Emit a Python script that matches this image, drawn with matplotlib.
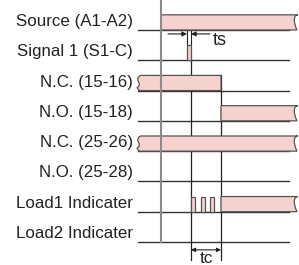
import matplotlib
matplotlib.use('Agg')
from matplotlib import pyplot as plt
from matplotlib.path import Path
from matplotlib.patches import PathPatch

# Timing diagram data: each row has a list of (start, end) "on" intervals
labels = ['Source (A1-A2)', 'Signal 1 (S1-C)', 'N.C. (15-16)', 'N.O. (15-18)',
          'N.C. (25-26)', 'N.O. (25-28)', 'Load1 Indicater', 'Load2 Indicater']
segments = [
    [(0.0, 13.6)],
    [(2.6, 3.0)],
    [(-2.3, 6.0)],
    [(6.0, 13.6)],
    [(-2.3, 13.6)],
    [],
    [(3.0, 3.4), (4.0, 4.4), (4.9, 5.3), (6.0, 13.6)],
    [],
]
t_first = -2.3      # where the rows begin (open / wavy start)
t_last = 13.6       # where the rows continue (wavy end)
t_line_end = 12.8   # end of the plain baselines
ts_span = (2.6, 3.0)
tc_span = (3.0, 6.0)

fill = '#f6d2ce'
edge = '#555555'
h = 0.5  # bar height in rows

fig = plt.figure(figsize=(2.99, 2.65), dpi=100)
ax = fig.add_axes([0, 0, 1, 1])
ax.set_xlim(-16.1, 13.8)
ax.set_ylim(7.76, -0.99)
ax.axis('off')


def bar_path(x0, x1, base):
    top = base - h
    verts = [(x0, base), (x1, base)]
    codes = [Path.MOVETO, Path.LINETO]
    if x1 >= t_last:
        # curled end on the right
        verts += [(x1 - 0.4, base - 0.55 * h), (x1 - 0.35, top), (x1 + 0.1, top)]
        codes += [Path.CURVE4] * 3
    else:
        verts.append((x1, top))
        codes.append(Path.LINETO)
    if x0 <= t_first:
        verts += [(x0 + 0.25, top)]
        codes += [Path.LINETO]
        verts += [(x0 - 0.5, top + 0.35 * h), (x0 + 0.6, base - 0.45 * h), (x0 - 0.1, base - 0.2 * h)]
        codes += [Path.CURVE4] * 3
        verts += [(x0 + 0.1, base), (x0, base)]
        codes += [Path.LINETO, Path.CLOSEPOLY]
    else:
        verts += [(x0, top), (x0, base)]
        codes += [Path.LINETO, Path.CLOSEPOLY]
    return Path(verts, codes)


# gray reference line (power applied), drawn over the bars
ax.plot([0, 0], [-0.99, len(labels) - 1], color='#8a8a8a', lw=1.5, zorder=4)

for i, (lab, segs) in enumerate(zip(labels, segments)):
    ax.plot([t_first, t_line_end], [i, i], color='#333333', lw=1, zorder=2)
    for x0, x1 in segs:
        ax.add_patch(PathPatch(bar_path(x0, x1, i), facecolor=fill,
                               edgecolor=edge, lw=0.9, zorder=3))
    ax.text(-2.8, i - 0.13, lab, ha='right', va='baseline',
            fontsize=12.2, family='Liberation Sans', color='#222222')

# ts markers
for x in ts_span:
    ax.plot([x, x], [0.03, 1 - h], color='#222222', lw=0.8, zorder=2)
ax.annotate('', xy=(ts_span[0], 0.13), xytext=(0.7, 0.13),
            arrowprops=dict(arrowstyle='-|>', color='#222222', lw=0.8,
                            mutation_scale=7, shrinkA=0, shrinkB=0))
ax.annotate('', xy=(ts_span[1], 0.13), xytext=(4.9, 0.13),
            arrowprops=dict(arrowstyle='-|>', color='#222222', lw=0.8,
                            mutation_scale=7, shrinkA=0, shrinkB=0))
ax.text(5.2, 0.36, 'ts', ha='left', va='center', fontsize=13,
        family='Liberation Sans', color='#222222')

# tc markers
ax.plot([tc_span[0]] * 2, [1, 7.59], color='#222222', lw=0.9, zorder=2)
ax.plot([tc_span[1]] * 2, [2 - h, 7.59], color='#222222', lw=0.9, zorder=2)
ax.annotate('', xy=(tc_span[0], 7.26), xytext=(tc_span[1], 7.26),
            arrowprops=dict(arrowstyle='<|-|>', color='#222222', lw=0.8,
                            mutation_scale=6, shrinkA=0, shrinkB=0))
ax.text(sum(tc_span) / 2, 7.3, 'tc', ha='center', va='top', fontsize=12.5,
        family='Liberation Sans', color='#222222')

fig.savefig('out.png', dpi=100)
